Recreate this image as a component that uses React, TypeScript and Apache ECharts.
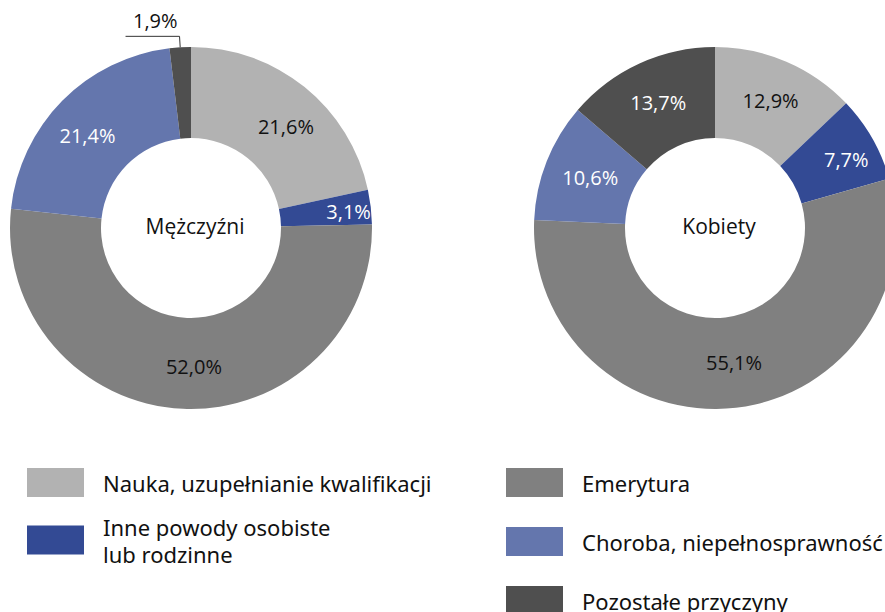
import React, { useEffect, useRef } from "react";
import * as echarts from "echarts";

const categories = [
  "Nauka, uzupełnianie kwalifikacji",
  "Inne powody osobiste\nlub rodzinne",
  "Emerytura",
  "Choroba, niepełnosprawność",
  "Pozostałe przyczyny",
];
const menValues = [21.6, 3.1, 52.0, 21.4, 1.9];
const womenValues = [12.9, 7.7, 55.1, 10.6, 13.7];
const groupTitles = ["Mężczyźni", "Kobiety"];

const colors = ["#b2b2b2", "#334a94", "#808080", "#6476ad", "#4f4f4f"];
const labelColors = ["#111", "#fff", "#111", "#fff", "#fff"];

const fmt = (v: number) => v.toFixed(1).replace(".", ",") + "%";

export default function App() {
  const ref = useRef<HTMLDivElement>(null);
  useEffect(() => {
    if (!ref.current) return;
    const chart = echarts.init(ref.current, null, { renderer: "svg" });
    const labelFont = "'Open Sans', sans-serif";
    const legendFont = "'Noto Sans', sans-serif";

    const menOffsets: Record<number, number[]> = { 0: [8, 6], 1: [20, 0], 2: [9, 0], 3: [-5, 5] };
    const womenOffsets: Record<number, number[]> = { 0: [1, 0], 1: [11, 0], 2: [3, -3], 3: [4, 0], 4: [1, 0] };

    const makeData = (vals: number[], offsets: Record<number, number[]>, outsideIdx: number) =>
      vals.map((v, i) => {
        const item: any = {
          name: categories[i],
          value: v,
          itemStyle: { color: colors[i] },
          label: {
            color: labelColors[i],
            offset: offsets[i] || [0, 0],
          },
        };
        if (i === outsideIdx) {
          item.label = {
            position: "outside",
            color: "#111",
            distanceToLabelLine: -52,
            lineHeight: 32,
            formatter: (p: any) => fmt(p.value) + "\n ",
          };
          item.labelLine = {
            show: true,
            length: 11,
            length2: 54,
            lineStyle: { color: "#333", width: 1 },
          };
        }
        return item;
      });

    const seriesBase = {
      type: "pie",
      radius: [90, 181],
      startAngle: 90,
      clockwise: true,
      avoidLabelOverlap: false,
      emphasis: { disabled: true },
      label: {
        show: true,
        position: "inside",
        fontSize: 20,
        fontFamily: labelFont,
        formatter: (p: any) => fmt(p.value),
      },
      labelLine: { show: false },
    };

    const legendText = {
      fontSize: 22,
      lineHeight: 27,
      color: "#111",
      fontFamily: legendFont,
      padding: [0, 0, 0, 14],
    };

    chart.setOption({
      animation: false,
      title: [
        {
          text: groupTitles[0],
          left: 190,
          top: 210,
          textAlign: "center",
          textStyle: { fontSize: 21, fontWeight: "normal", color: "#111", fontFamily: labelFont },
        },
        {
          text: groupTitles[1],
          left: 714,
          top: 210,
          textAlign: "center",
          textStyle: { fontSize: 21, fontWeight: "normal", color: "#111", fontFamily: labelFont },
        },
      ],
      legend: [
        {
          data: categories.slice(0, 2),
          orient: "vertical",
          left: 22,
          top: 463,
          height: 200,
          itemWidth: 57,
          itemHeight: 29,
          itemGap: 16,
          icon: "rect",
          selectedMode: false,
          textStyle: legendText,
        },
        {
          data: categories.slice(2),
          orient: "vertical",
          left: 501,
          top: 463,
          height: 200,
          itemWidth: 57,
          itemHeight: 29,
          itemGap: 30,
          icon: "rect",
          selectedMode: false,
          textStyle: legendText,
        },
      ],
      series: [
        { ...seriesBase, name: groupTitles[0], center: [191, 228], data: makeData(menValues, menOffsets, 4) },
        { ...seriesBase, name: groupTitles[1], center: [715, 228], data: makeData(womenValues, womenOffsets, -1) },
      ],
    });
    return () => chart.dispose();
  }, []);
  return (
    <div
      ref={ref}
      style={{ position: "fixed", left: 0, top: 0, width: 885, height: 612, background: "#fff" }}
    />
  );
}
